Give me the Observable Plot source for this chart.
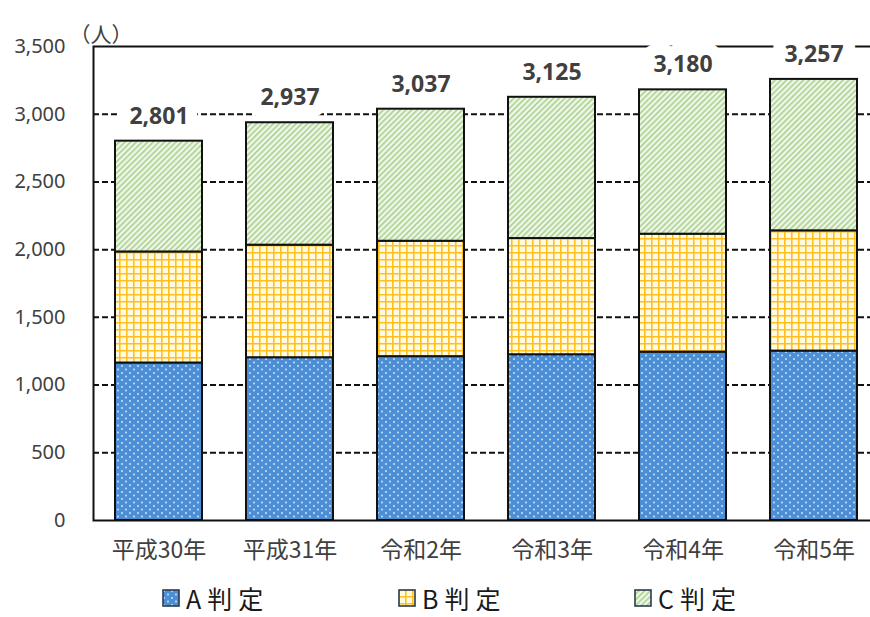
<!DOCTYPE html>
<html><head><meta charset="utf-8">
<script src="https://cdn.jsdelivr.net/npm/d3@7"></script>
<script src="https://cdn.jsdelivr.net/npm/@observablehq/plot@0.6"></script>
<style>
html,body{margin:0;padding:0;background:#fff;overflow:hidden;}
#chart svg{display:block;}
#legend{display:flex;padding-left:162px;padding-top:10px;height:26px;align-items:center;font-family:'Noto Sans CJK JP',sans-serif;color:#1a1a1a;}
#legend .item{width:240px;display:flex;align-items:center;height:26px;}
#legend .item span{font-size:25px;letter-spacing:6px;margin-left:6px;line-height:26px;white-space:nowrap;}
#legend .item svg{display:block;}
</style></head><body>
<svg width="0" height="0" style="position:absolute"><defs>
<pattern id="pA" width="8" height="7" patternUnits="userSpaceOnUse">
<rect width="8" height="7" fill="#4d8fd6"/>
<circle cx="2" cy="2" r="0.9" fill="#d9eafb"/>
<circle cx="6" cy="5.5" r="0.9" fill="#d9eafb"/>
</pattern>
<pattern id="pB" width="7" height="7" patternUnits="userSpaceOnUse">
<rect width="7" height="7" fill="#fffae0"/>
<path d="M0 0.8H7M0.8 0V7" stroke="#ffc01f" stroke-width="1.6"/>
</pattern>
<pattern id="pC" width="4" height="4" patternUnits="userSpaceOnUse" patternTransform="rotate(45)">
<rect width="4" height="4" fill="#eff7e9"/>
<rect width="1.5" height="4" fill="#a6cd8a"/>
</pattern>
</defs></svg>
<div id="chart"></div>
<div id="legend"></div>
<script>
const years = ["平成30年","平成31年","令和2年","令和3年","令和4年","令和5年"];
const categories = ["A判定","B判定","C判定"];
const aValues = [1163,1202,1210,1224,1243,1251];
const bValues = [820,831,852,858,871,888];
const cValues = [818,904,975,1043,1066,1118];
const totals = [2801,2937,3037,3125,3180,3257];
const yTicks = [0,500,1000,1500,2000,2500,3000,3500];
const gridTicks = [500,1000,1500,2000,2500,3000];
const yUnit = "（人）";

const patterns = ["url(#pA)","url(#pB)","url(#pC)"];
const series = [aValues,bValues,cValues];
const stacked = [];
years.forEach((yr,i)=>{
  categories.forEach((c,k)=>stacked.push({year:yr,cat:c,value:series[k][i]}));
});
const totalData = years.map((yr,i)=>({year:yr,total:totals[i]}));

const cjk = "'Noto Sans CJK JP', sans-serif";
const chart = Plot.plot({
  width:870, height:575,
  marginLeft:93, marginRight:-10, marginTop:46, marginBottom:55,
  style:{fontFamily:"'Noto Sans','Noto Sans CJK JP',sans-serif",color:"#404040",background:"white",overflow:"hidden"},
  x:{domain:years,paddingInner:0.335,paddingOuter:0.1675,label:null},
  y:{domain:[0,3500],label:null},
  color:{domain:categories,range:patterns},
  marks:[
    Plot.ruleY(gridTicks,{stroke:"#111",strokeWidth:2,strokeDasharray:"6,3"}),
    Plot.barY(stacked,Plot.stackY({x:"year",y:"value",fill:"cat",stroke:"#111",strokeWidth:2})),
    Plot.frame({stroke:"#111",strokeWidth:2}),
    Plot.text(totalData,{x:"year",y:"total",text:d=>d3.format(",")(d.total),dy:-25,lineAnchor:"middle",fontWeight:"bold",fontSize:23,fill:"#404040",stroke:"white",strokeWidth:24,strokeLinejoin:"round",paintOrder:"stroke"}),
    Plot.axisY(yTicks,{tickSize:0,tickPadding:28,tickFormat:d3.format(","),fontSize:20}),
    Plot.axisX({tickSize:0,tickPadding:21,fontSize:23,fontFamily:cjk}),
    Plot.text([yUnit],{text:d=>d,frameAnchor:"top-left",textAnchor:"start",lineAnchor:"bottom",dx:-24,dy:-5,fontSize:21,fontFamily:cjk,fill:"#404040"})
  ]
});
document.getElementById("chart").appendChild(chart);

const legend = document.getElementById("legend");
categories.forEach((c,k)=>{
  const it = document.createElement("div");
  it.className="item";
  it.innerHTML = `<svg width="18" height="18"><rect x="1" y="1" width="16" height="16" fill="${patterns[k]}" stroke="#2b3b4f" stroke-width="1.6"/></svg><span>${c}</span>`;
  legend.appendChild(it);
});
</script>
</body></html>
